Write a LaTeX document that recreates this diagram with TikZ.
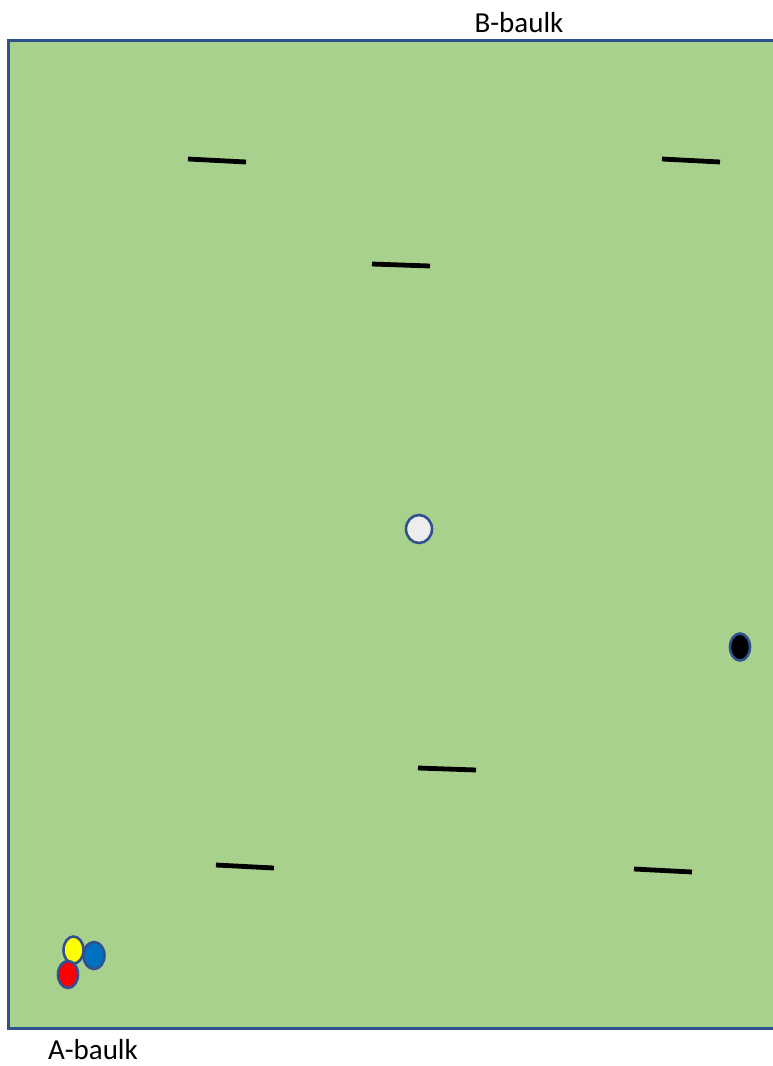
\documentclass[tikz,border=0pt]{standalone}
\usepackage{fontspec}
\setmainfont{Carlito}
\usetikzlibrary{shapes.geometric}
\definecolor{lawn}{HTML}{A9D18E}
\definecolor{edge}{HTML}{2F528F}
\definecolor{wball}{HTML}{EDEDED}
\definecolor{bball}{HTML}{0070C0}
\definecolor{yball}{HTML}{FFFF00}
\definecolor{rball}{HTML}{FF0000}
\tikzset{
  ball/.style={ellipse, draw=edge, line width=2.6pt, inner sep=0pt, minimum width=#1},
  ball/.default=20pt,
  hoop/.style={line width=4.8pt, black},
  lbl/.style={font=\fontsize{29}{34}\selectfont, inner sep=0pt, anchor=base}
}
\begin{document}
\begin{tikzpicture}[x=1pt,y=-1pt]
\useasboundingbox (0,0) rectangle (773,1066);
\clip (0,0) rectangle (773,1066);
\fill[white] (0,0) rectangle (773,1066);
\draw[edge, fill=lawn, line width=3pt] (8,40) rectangle (790,1028);
% hoops
\draw[hoop] (188,159) -- (246,162);
\draw[hoop] (662,159) -- (720,162);
\draw[hoop] (372,264) -- (430,266);
\draw[hoop] (418,768) -- (476,770);
\draw[hoop] (216,865) -- (274,868);
\draw[hoop] (634,869) -- (692,872);
% balls
\node[ball=26pt, minimum height=28pt, fill=wball] (white) at (419,529) {};
\node[ball=20pt, minimum height=27pt, fill=black] (black) at (740,647) {};
\node[ball=21pt, minimum height=27pt, fill=bball] (blue) at (94,955.5) {};
\node[ball=20pt, minimum height=27pt, fill=yball] (yellow) at (73.5,950) {};
\node[ball=20pt, minimum height=27pt, fill=rball] (red) at (68,974.5) {};
% labels
\node[lbl] (bbaulk) at (519,32) {B-baulk};
\node[lbl] (abaulk) at (93,1059) {A-baulk};
\end{tikzpicture}
\end{document}
